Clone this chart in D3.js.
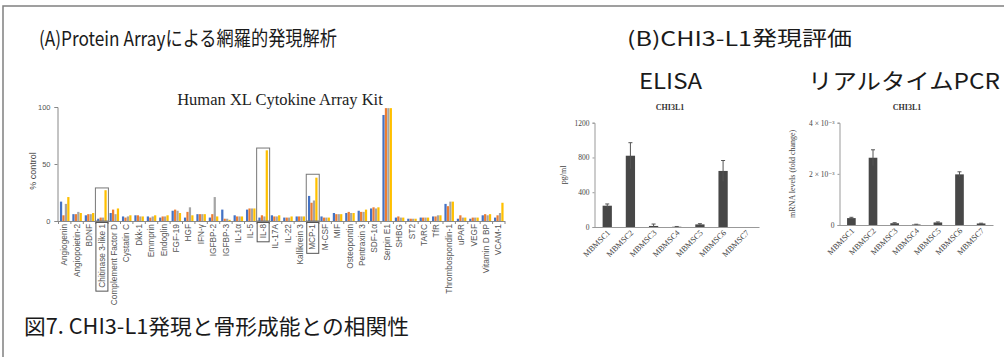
<!DOCTYPE html>
<html>
<head>
<meta charset="utf-8">
<script src="https://cdn.jsdelivr.net/npm/d3@7"></script>
<style>
  body { margin: 0; background: #fff; }
  svg { display: block; }
</style>
</head>
<body>
<svg id="chart" width="1004" height="357"></svg>
<script>
// ---- data (panel A: cytokine array, % control) ----
const categories = ["Angiogenin","Angiopoietin-2","BDNF","Chitinase 3-like 1","Complement Factor D","Cystatin C","Dkk-1","Emmprin","Endoglin","FGF-19","HGF","IFN-γ","IGFBP-2","IGFBP-3","IL-1α","IL-5","IL-8","IL-17A","IL-22","Kallikrein 3","MCP-1","M-CSF","MIF","Osteopontin","Pentraxin 3","SDF-1α","Serpin E1","SHBG","ST2","TARC","TfR","Thrombospondin-1","uPAR","VEGF","Vitamin D BP","VCAM-1"]
const blue   = [17,6,5,2,7,4,5,4,3,9,3,6,3,10,5,10,3,5,3,4,22,4,7,7,9,11,93,3,2,3,4,15,2,2,5,3]
const orange = [5,6,6,3,10,3,5,3,4,10,8,6,6,2,4,11,5,4,3,4,16,3,6,8,8,12,99,4,2,3,4,13,5,3,6,5]
const gray   = [15,8,6,3,6,4,4,4,4,9,12,6,21,2,4,11,4,4,3,4,18,3,6,7,8,11,99,3,2,3,5,17,3,3,5,7]
const yellow = [21,7,7,27,11,5,4,5,5,7,5,6,4,1,4,11,62,5,4,4,38,3,6,7,10,12,99,3,2,3,5,17,3,3,6,16]
const seriesColors = ["#4472C4","#ED7D31","#A5A5A5","#FFC000"]
const boxedCats = ["Chitinase 3-like 1","IL-8","MCP-1"]
const boxTops = [29,64,41]

// ---- data (panel B) ----
const samples = ["MBMSC1","MBMSC2","MBMSC3","MBMSC4","MBMSC5","MBMSC6","MBMSC7"]
const elisaMean = [245,820,12,3,30,645,0]
const elisaErr  = [20,150,22,3,8,120,0]
const pcrMean = [0.00027,0.00263,0.00007,0.00002,0.00010,0.00198,0.00006]
const pcrErr  = [0.00003,0.00031,0.00002,0.00001,0.00002,0.00010,0.00001]

const svg = d3.select("#chart")
const jp = "'Noto Sans CJK JP', 'Noto Sans', sans-serif"
const serif = "'Liberation Serif', 'DejaVu Serif', serif"
const sans = "'Liberation Sans', Arial, sans-serif"

// frame
svg.append("rect").attr("x",3).attr("y",6).attr("width",1010).attr("height",360)
  .attr("fill","none").attr("stroke","#808080").attr("stroke-width",1.5)

// big headings
const heading = (txt, x, y, size, len) => {
  svg.append("text").attr("x",x).attr("y",y).attr("font-family",jp).attr("font-size",size)
    .attr("fill","#1a1a1a").attr("textLength",len).attr("lengthAdjust","spacingAndGlyphs").text(txt)
}
heading("(A)Protein Arrayによる網羅的発現解析", 39, 46, 20, 298)
heading("(B)CHI3-L1発現評価", 627, 46, 20, 225)
heading("ELISA", 639, 89, 22, 63)
heading("リアルタイムPCR", 808, 89, 22, 192)
heading("図7. CHI3-L1発現と骨形成能との相関性", 24, 334, 21, 385)

// ---------------- panel A ----------------
const x = d3.scaleBand().domain(categories).range([58.5, 505]).paddingInner(0.2).paddingOuter(0.1)
const xs = d3.scaleBand().domain([0,1,2,3]).range([0, x.bandwidth()]).padding(0.08)
const y = d3.scaleLinear().domain([0,100]).range([221,107])
const gA = svg.append("g")

gA.append("text").attr("x",280).attr("y",105).attr("text-anchor","middle")
  .attr("font-family",serif).attr("font-size",16.5).attr("fill","#222").text("Human XL Cytokine Array Kit")

const series = [blue, orange, gray, yellow]
series.forEach((vals, si) => {
  gA.append("g").selectAll("rect").data(vals).join("rect")
    .attr("x", (d,i) => x(categories[i]) + xs(si))
    .attr("y", d => y(d))
    .attr("width", xs.bandwidth())
    .attr("height", d => y(0) - y(d))
    .attr("fill", seriesColors[si])
})

const yAxA = gA.append("g").attr("transform","translate(57.5,0)")
  .call(d3.axisLeft(y).tickValues([0,50,100]).tickSize(3).tickPadding(4))
yAxA.select(".domain").attr("stroke","#888")
yAxA.selectAll(".tick line").attr("stroke","#888")
yAxA.selectAll("text").attr("font-family",sans).attr("font-size",7.5).attr("fill","#555")

gA.append("text").attr("transform","translate(36,171) rotate(-90)").attr("text-anchor","middle")
  .attr("font-family",sans).attr("font-size",9).attr("fill","#444").text("% control")

const xAxA = gA.append("g").attr("transform",`translate(0,${y(0)})`)
  .call(d3.axisBottom(x).tickSize(0).tickPadding(3))
xAxA.select(".domain").attr("stroke","#888").attr("d","M57.5,0.5H505")
xAxA.selectAll("text").attr("font-family",sans).attr("font-size",8.3).attr("fill","#555")
  .attr("text-anchor","end").attr("transform","rotate(-90)").attr("dx","-3").attr("dy","0.32em")
  .attr("x",0).attr("y",0)
// category boundary ticks
gA.append("g").selectAll("line").data(categories.concat([null])).join("line")
  .attr("x1",(d,i) => 58.5 + i * x.step()).attr("x2",(d,i) => 58.5 + i * x.step())
  .attr("y1",y(0)).attr("y2",y(0)+3).attr("stroke","#888")

// highlight boxes
boxedCats.forEach((c,k) => {
  const cx = x(c) + x.bandwidth()/2
  gA.append("rect").attr("x",cx-6.5).attr("y",y(boxTops[k])).attr("width",13)
    .attr("height",y(0)-y(boxTops[k])).attr("fill","none").attr("stroke","#777").attr("stroke-width",1)
  const t = xAxA.selectAll("text").filter(d => d === c).node()
  const len = t.getComputedTextLength()
  gA.append("rect").attr("x",cx-6).attr("y",y(0)+1.5).attr("width",12)
    .attr("height",len+5).attr("fill","none").attr("stroke","#555").attr("stroke-width",1)
})

// ---------------- panel B helper ----------------
const smallBar = (g, xr, yScale, ticks, fmt, means, errs, title, titleX, ylab, ylabX) => {
  const xb = d3.scaleBand().domain(samples).range(xr).paddingInner(0.6).paddingOuter(0.35)
  const y0 = yScale.range()[0]
  g.append("text").attr("x",titleX).attr("y",110).attr("text-anchor","middle")
    .attr("font-family",serif).attr("font-weight","bold").attr("font-size",8).attr("fill","#333").text(title)
  g.selectAll("rect.bar").data(means).join("rect").attr("class","bar")
    .attr("x",(d,i) => xb(samples[i])).attr("y",d => yScale(d))
    .attr("width",xb.bandwidth()).attr("height",d => y0 - yScale(d)).attr("fill","#474747")
  const eb = g.append("g").attr("stroke","#555").attr("stroke-width",1)
  means.forEach((m,i) => {
    if (!errs[i]) return
    const cx = xb(samples[i]) + xb.bandwidth()/2
    const lo = Math.max(0, m - errs[i]), hi = m + errs[i]
    eb.append("line").attr("x1",cx).attr("x2",cx).attr("y1",yScale(lo)).attr("y2",yScale(hi))
    eb.append("line").attr("x1",cx-2).attr("x2",cx+2).attr("y1",yScale(hi)).attr("y2",yScale(hi))
  })
  const ya = g.append("g").attr("transform",`translate(${xr[0]},0)`)
    .call(d3.axisLeft(yScale).tickValues(ticks).tickSize(2).tickPadding(3).tickFormat(fmt))
  ya.select(".domain").attr("stroke","#999")
  ya.selectAll(".tick line").attr("stroke","#999")
  ya.selectAll("text").attr("font-family",serif).attr("font-size",7.5).attr("fill","#444")
  const xa = g.append("g").attr("transform",`translate(0,${y0})`)
    .call(d3.axisBottom(xb).tickSize(0).tickPadding(3))
  xa.select(".domain").attr("stroke","#999")
  xa.selectAll("text").attr("font-family",serif).attr("font-size",8.2).attr("fill","#444")
    .attr("text-anchor","end").attr("transform","rotate(-45)").attr("dx","-2").attr("dy","0.6em").attr("y",2)
  g.append("text").attr("transform",`translate(${ylabX},${(yScale.range()[0]+yScale.range()[1])/2}) rotate(-90)`)
    .attr("text-anchor","middle").attr("font-family",serif).attr("font-size",8).attr("fill","#444").text(ylab)
}

const yE = d3.scaleLinear().domain([0,1200]).range([227,122.7])
smallBar(svg.append("g"), [594.5, 759], yE, [0,400,800,1200], d3.format("d"),
  elisaMean, elisaErr, "CHI3L1", 670, "pg/ml", 566)

const sup = "⁻³"
const yP = d3.scaleLinear().domain([0,0.004]).range([225,122.7])
smallBar(svg.append("g"), [839.5, 993], yP, [0,0.002,0.004],
  d => d === 0 ? "0" : `${Math.round(d*1000)} × 10${sup}`,
  pcrMean, pcrErr, "CHI3L1", 907, "mRNA levels (fold change)", 795)
</script>
</body>
</html>
